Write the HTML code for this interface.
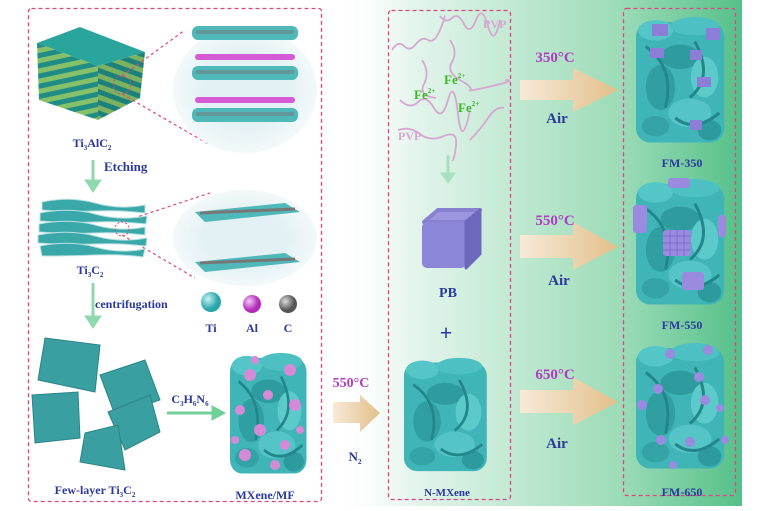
<!DOCTYPE html>
<html><head><meta charset="utf-8"><style>
body{margin:0;background:#fff}
svg{display:block}
text{font-family:"Liberation Serif",serif;font-weight:bold}
</style></head><body>
<svg width="757" height="511" viewBox="0 0 757 511" xmlns="http://www.w3.org/2000/svg">
<defs>
<linearGradient id="bg" x1="0" x2="1" y1="0" y2="0">
<stop offset="0" stop-color="#ffffff" stop-opacity="0"/>
<stop offset="0.2" stop-color="#e4f5ec"/>
<stop offset="0.7" stop-color="#9ddcb8"/>
<stop offset="1" stop-color="#55c089"/>
</linearGradient>
<linearGradient id="arr" x1="0" x2="1">
<stop offset="0" stop-color="#f7ead8"/><stop offset="1" stop-color="#e2bf8a"/>
</linearGradient>
<radialGradient id="ell" cx="0.5" cy="0.5" r="0.5">
<stop offset="0.6" stop-color="#e4f1f4"/><stop offset="1" stop-color="#f3f9fb"/>
</radialGradient>
<radialGradient id="ti" cx="0.35" cy="0.35"><stop offset="0" stop-color="#c8f4f4"/><stop offset="1" stop-color="#2aa6aa"/></radialGradient>
<radialGradient id="al" cx="0.35" cy="0.35"><stop offset="0" stop-color="#f6c6f6"/><stop offset="1" stop-color="#b02cb8"/></radialGradient>
<radialGradient id="cc" cx="0.35" cy="0.35"><stop offset="0" stop-color="#dddddd"/><stop offset="1" stop-color="#555"/></radialGradient>
<pattern id="stripes" width="10" height="10" patternUnits="userSpaceOnUse" patternTransform="rotate(-12)">
<rect width="10" height="5" fill="#1f8d86"/><rect y="5" width="10" height="5" fill="#86c068"/></pattern>
<pattern id="stripes2" width="10" height="10" patternUnits="userSpaceOnUse" patternTransform="rotate(20)">
<rect width="10" height="5" fill="#1f8d86"/><rect y="5" width="10" height="5" fill="#86c068"/></pattern>
<g id="blob">
<rect x="0" y="6" width="90" height="118" rx="14" fill="#3fb5b8"/>
<ellipse cx="20" cy="14" rx="18" ry="10" fill="#54c6c8"/>
<ellipse cx="60" cy="10" rx="25" ry="9" fill="#4cc0c2"/>
<ellipse cx="45" cy="40" rx="20" ry="12" fill="#2e9c9f"/>
<ellipse cx="70" cy="60" rx="14" ry="20" fill="#5ccaca"/>
<ellipse cx="25" cy="70" rx="15" ry="22" fill="#2f9fa2"/>
<ellipse cx="55" cy="95" rx="22" ry="14" fill="#55c4c6"/>
<ellipse cx="20" cy="108" rx="14" ry="10" fill="#33a3a6"/>
<ellipse cx="75" cy="112" rx="12" ry="10" fill="#2d9a9d"/>
<path d="M10 30 Q40 50 30 90 M60 25 Q80 60 55 80 M40 100 Q60 115 85 95" stroke="#23868a" stroke-width="3" fill="none"/>
</g>
</defs>

<rect x="330" y="0" width="412" height="506" fill="url(#bg)"/>

<g fill="none" stroke="#e0457f" stroke-width="1.3" stroke-dasharray="4,3">
<rect x="28.5" y="8.5" width="293" height="493" rx="3"/>
<rect x="388.5" y="10.5" width="122" height="489" rx="3"/>
<rect x="623.5" y="8.5" width="112" height="487" rx="3"/>
</g>

<polygon points="37,43 80,27 145,52 98,66" fill="#2aa59c"/>
<polygon points="37,43 98,66 98,120 39,100" fill="url(#stripes)"/>
<polygon points="98,66 145,52 140,98 98,120" fill="url(#stripes2)"/>
<polygon points="98,66 145,52 140,98 98,120" fill="#000" opacity="0.08"/>
<circle cx="122" cy="85" r="9" fill="none" stroke="#e0457f" stroke-dasharray="2,2"/>
<g stroke="#e0457f" stroke-dasharray="3,3" stroke-width="1.2">
<line x1="122" y1="76" x2="185" y2="30"/><line x1="122" y1="94" x2="210" y2="145"/>
<line x1="122" y1="222" x2="210" y2="193"/><line x1="122" y1="235" x2="195" y2="278"/>
</g>
<ellipse cx="245" cy="90" rx="72" ry="63" fill="url(#ell)"/>
<g>
<rect x="192" y="26" width="106" height="14" rx="6" fill="#4fb8b8"/>
<rect x="192" y="66" width="106" height="14" rx="6" fill="#4fb8b8"/>
<rect x="192" y="108" width="106" height="14" rx="6" fill="#4fb8b8"/>
<rect x="196" y="30" width="98" height="4" fill="#777" opacity="0.5"/>
<rect x="196" y="70" width="98" height="4" fill="#777" opacity="0.5"/>
<rect x="196" y="112" width="98" height="4" fill="#777" opacity="0.5"/>
<rect x="195" y="54" width="100" height="6" rx="3" fill="#d45ad6"/>
<rect x="195" y="97" width="100" height="6" rx="3" fill="#d45ad6"/>
</g>
<ellipse cx="245" cy="238" rx="72" ry="48" fill="url(#ell)"/>
<polygon points="195,212 285,203 300,212 205,222" fill="#4fb8b8"/>
<polygon points="195,262 285,253 300,262 205,272" fill="#4fb8b8"/>
<line x1="200" y1="213" x2="295" y2="209" stroke="#777" stroke-width="3"/>
<line x1="200" y1="263" x2="295" y2="259" stroke="#777" stroke-width="3"/>

<text x="92" y="147" font-size="12" fill="#2a3a9c" text-anchor="middle">Ti<tspan font-size="7" dy="3">3</tspan><tspan dy="-3">AlC</tspan><tspan font-size="7" dy="3">2</tspan></text>
<text x="104" y="171" font-size="13" fill="#2a3a9c">Etching</text>
<g fill="#8fd8b0" stroke="#8fd8b0"><line x1="93" y1="160" x2="93" y2="186" stroke-width="3"/><polygon points="85,180 101,180 93,192"/></g>

<g fill="#3aa7a8" stroke="#b8e0e0" stroke-width="1">
<path d="M42 202 Q70 196 95 203 T145 205 L145 213 Q120 210 95 211 T42 210Z"/>
<path d="M40 213 Q70 207 95 214 T147 216 L146 224 Q120 221 95 222 T40 221Z"/>
<path d="M39 224 Q70 218 95 225 T145 227 L145 235 Q120 232 95 233 T39 232Z"/>
<path d="M38 235 Q70 229 95 236 T147 238 L146 246 Q120 243 95 244 T38 243Z"/>
<path d="M40 246 Q70 240 95 247 T145 249 L143 257 Q120 254 95 255 T42 256Z"/>
</g>
<circle cx="122" cy="229" r="7" fill="none" stroke="#e0457f" stroke-dasharray="2,2"/>
<text x="90" y="274" font-size="12" fill="#2a3a9c" text-anchor="middle">Ti<tspan font-size="7" dy="3">3</tspan><tspan dy="-3">C</tspan><tspan font-size="7" dy="3">2</tspan></text>
<g fill="#8fd8b0" stroke="#8fd8b0"><line x1="93" y1="283" x2="93" y2="323" stroke-width="3"/><polygon points="85,316 101,316 93,328"/></g>
<text x="95" y="308" font-size="12" fill="#2a3a9c">centrifugation</text>
<circle cx="211" cy="302" r="10" fill="url(#ti)"/>
<circle cx="252" cy="304" r="9" fill="url(#al)"/>
<circle cx="288" cy="304" r="9" fill="url(#cc)"/>
<text x="211" y="332" font-size="12" fill="#2a3a9c" text-anchor="middle">Ti</text>
<text x="252" y="332" font-size="12" fill="#2a3a9c" text-anchor="middle">Al</text>
<text x="288" y="332" font-size="12" fill="#2a3a9c" text-anchor="middle">C</text>

<g fill="#3a9fa0" stroke="#2b8587">
<polygon points="45,338 100,345 95,392 38,380"/>
<polygon points="100,375 145,360 160,400 115,415"/>
<polygon points="32,395 78,392 80,438 35,443"/>
<polygon points="108,412 150,395 160,432 125,450"/>
<polygon points="85,433 118,425 125,470 80,462"/>
</g>
<text x="95" y="494" font-size="12" fill="#2a3a9c" text-anchor="middle">Few-layer Ti<tspan font-size="7" dy="3">3</tspan><tspan dy="-3">C</tspan><tspan font-size="7" dy="3">2</tspan></text>
<text x="190" y="403" font-size="12" fill="#2a3a9c" text-anchor="middle">C<tspan font-size="7" dy="3">3</tspan><tspan dy="-3">H</tspan><tspan font-size="7" dy="3">6</tspan><tspan dy="-3">N</tspan><tspan font-size="7" dy="3">6</tspan></text>
<g fill="#6fd09a" stroke="#6fd09a"><line x1="167" y1="413" x2="215" y2="413" stroke-width="3"/><polygon points="212,406 225,413 212,420"/></g>

<use href="#blob" transform="translate(230,352) scale(0.85,0.98)"/>
<g fill="#d58ad8">
<circle cx="250" cy="375" r="6"/><circle cx="290" cy="370" r="6"/><circle cx="268" cy="395" r="5"/><circle cx="240" cy="410" r="5"/>
<circle cx="295" cy="405" r="6"/><circle cx="260" cy="430" r="6"/><circle cx="285" cy="445" r="5"/><circle cx="245" cy="455" r="6"/>
<circle cx="275" cy="465" r="5"/><circle cx="300" cy="430" r="4"/><circle cx="255" cy="360" r="4"/><circle cx="235" cy="440" r="4"/>
</g>
<text x="265" y="499" font-size="12" fill="#2a3a9c" text-anchor="middle">MXene/MF</text>

<text x="351" y="387" font-size="14" fill="#b03cc4" text-anchor="middle">550°C</text>
<polygon points="333,402 360,402 360,395 380,413 360,432 360,423 333,423" fill="url(#arr)"/>
<text x="355" y="461" font-size="13" fill="#2a3a9c" text-anchor="middle">N<tspan font-size="7" dy="3">2</tspan></text>

<g fill="none" stroke="#d8a6d2" stroke-width="1.8">
<path d="M392 50 Q398 40 404 46 T416 44 T428 40 T440 30 T444 16"/>
<path d="M440 16 Q446 24 452 18 T464 24 T476 20 T488 26 T500 20"/>
<path d="M400 100 Q410 110 418 102 T434 108 T448 100 T458 114 T470 110"/>
<path d="M450 40 Q458 52 452 62 T460 80 T470 90 T492 86 T505 80"/>
<path d="M422 60 Q430 72 424 84 T436 98"/>
<path d="M470 140 Q480 130 488 118 T504 108"/>
<path d="M398 130 Q410 126 420 134 T444 136 T456 146 T452 160"/>
</g>
<text x="483" y="28" font-size="12" fill="#d8a6d2" font-weight="normal">PVP</text>
<text x="398" y="140" font-size="12" fill="#d8a6d2" font-weight="normal">PVP</text>
<text x="444" y="84" font-size="13" fill="#3cb828">Fe<tspan font-size="7" dy="-6">2+</tspan></text>
<text x="414" y="99" font-size="13" fill="#3cb828">Fe<tspan font-size="7" dy="-6">2+</tspan></text>
<text x="458" y="112" font-size="13" fill="#3cb828">Fe<tspan font-size="7" dy="-6">2+</tspan></text>
<g fill="#a8e0c4" stroke="#a8e0c4"><line x1="448" y1="155" x2="448" y2="178" stroke-width="3"/><polygon points="441,173 455,173 448,183"/></g>

<polygon points="424,222 438,210 480,210 466,222" fill="#9c96e0" stroke="#8880d0" stroke-linejoin="round" stroke-width="4"/>
<rect x="422" y="222" width="44" height="46" rx="5" fill="#8c86d8"/>
<polygon points="466,222 480,210 480,254 466,268" fill="#6e68bc" stroke="#6e68bc" stroke-linejoin="round" stroke-width="3"/>
<text x="448" y="297" font-size="14" fill="#2a3a9c" text-anchor="middle">PB</text>
<text x="446" y="340" font-size="22" fill="#2a3a9c" text-anchor="middle">+</text>

<use href="#blob" transform="translate(404,357) scale(0.92,0.92)"/>
<text x="447" y="496" font-size="11" fill="#2a3a9c" text-anchor="middle">N-MXene</text>

<g fill="url(#arr)">
<polygon points="520,80 573,80 573,68 618,90 573,112 573,100 520,100"/>
<polygon points="520,235 573,235 573,222 618,247 573,270 573,258 520,258"/>
<polygon points="520,390 573,390 573,377 618,402 573,425 573,413 520,413"/>
</g>
<text x="555" y="62" font-size="15" fill="#b03cc4" text-anchor="middle">350°C</text>
<text x="557" y="123" font-size="15" fill="#2a3a9c" text-anchor="middle">Air</text>
<text x="555" y="225" font-size="15" fill="#b03cc4" text-anchor="middle">550°C</text>
<text x="559" y="285" font-size="15" fill="#2a3a9c" text-anchor="middle">Air</text>
<text x="555" y="379" font-size="15" fill="#b03cc4" text-anchor="middle">650°C</text>
<text x="557" y="448" font-size="15" fill="#2a3a9c" text-anchor="middle">Air</text>

<use href="#blob" transform="translate(636,16) scale(0.98,1.02)"/>
<g fill="#8c7ed6">
<rect x="652" y="24" width="16" height="12"/><rect x="706" y="28" width="14" height="12"/><rect x="650" y="48" width="14" height="10"/>
<rect x="690" y="50" width="12" height="10"/><rect x="697" y="77" width="14" height="10"/><rect x="690" y="120" width="12" height="10"/>
</g>
<text x="682" y="167" font-size="12" fill="#2a3a9c" text-anchor="middle">FM-350</text>

<use href="#blob" transform="translate(636,178) scale(0.98,1.02)"/>
<g fill="#9a8ae0">
<rect x="663" y="230" width="28" height="26" rx="3"/><rect x="633" y="205" width="14" height="28" rx="3"/>
<rect x="668" y="178" width="22" height="10" rx="3"/><rect x="718" y="215" width="8" height="22" rx="3"/>
<rect x="682" y="272" width="22" height="18" rx="3"/>
</g>
<g fill="none" stroke="#7566c4" stroke-width="0.7">
<path d="M663 236H691M663 243H691M663 250H691M670 230V256M677 230V256M684 230V256"/>
</g>
<text x="682" y="329" font-size="12" fill="#2a3a9c" text-anchor="middle">FM-550</text>

<use href="#blob" transform="translate(636,342) scale(0.98,1.02)"/>
<g fill="#9a8ae0">
<circle cx="670" cy="354" r="5"/><circle cx="708" cy="350" r="5"/><circle cx="658" cy="389" r="5"/><circle cx="699" cy="377" r="5"/>
<circle cx="642" cy="405" r="5"/><circle cx="705" cy="400" r="5"/><circle cx="720" cy="408" r="4"/><circle cx="661" cy="440" r="5"/>
<circle cx="690" cy="442" r="5"/><circle cx="725" cy="440" r="4"/><circle cx="673" cy="465" r="4"/>
</g>
<text x="682" y="496" font-size="12" fill="#2a3a9c" text-anchor="middle">FM-650</text>
</svg>
</body></html>
